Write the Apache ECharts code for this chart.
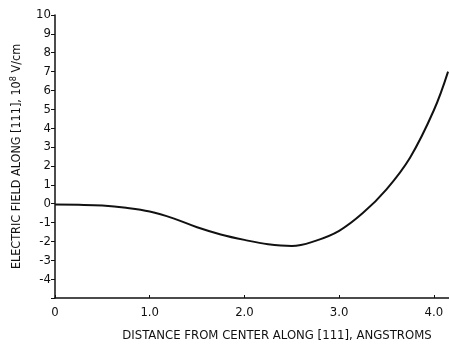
<!DOCTYPE html>
<html>
<head>
<meta charset="utf-8">
<script src="https://cdn.jsdelivr.net/npm/echarts@6/dist/echarts.min.js"></script>
<style>
  html, body { margin: 0; padding: 0; background: #fff; }
  #chart { width: 449px; height: 347px; }
</style>
</head>
<body>
<div id="chart"></div>
<script>
  // distance from center along [111], angstroms
  var xData = [0, 0.25, 0.5, 0.75, 1.0, 1.25, 1.5, 1.75, 2.0, 2.25, 2.5, 2.75,
    3.0, 3.25, 3.5, 3.75, 4.0, 4.15]
  // electric field, 10^8 V/cm
  var yData = [-0.05, -0.06, -0.1, -0.22, -0.42, -0.78, -1.25, -1.63, -1.92, -2.15, -2.24, -1.97,
    -1.44, -0.5, 0.76, 2.45, 4.95, 7.0]
  var yTicks = [10, 9, 8, 7, 6, 5, 4, 3, 2, 1, 0, -1, -2, -3, -4]
  var xTicks = ['0', '1.0', '2.0', '3.0', '4.0']

  var font = '"DejaVu Sans Condensed", "Liberation Sans Narrow", sans-serif'
  var chart = echarts.init(document.getElementById('chart'))
  chart.setOption({
    animation: false,
    grid: {
      left: 55,
      right: 0,
      top: 15,
      bottom: 44
    },
    xAxis: {
      type: 'value',
      min: 0,
      max: 4.16,
      interval: 1,
      name: 'DISTANCE FROM CENTER ALONG [111], ANGSTROMS',
      nameLocation: 'middle',
      nameGap: 31,
      nameTextStyle: {
        color: '#111',
        fontFamily: font,
        fontSize: 13,
        padding: [0, 0, 0, 50]
      },
      axisLine: { show: true, onZero: false, lineStyle: { color: '#111', width: 1.5 } },
      axisTick: { show: true, inside: true, length: 3, lineStyle: { color: '#111' } },
      splitLine: { show: false },
      axisLabel: {
        color: '#111',
        fontFamily: font,
        fontSize: 13,
        margin: 8,
        showMaxLabel: false,
        formatter: function (v) {
          var i = Math.round(v)
          return xTicks[i] !== undefined ? xTicks[i] : ''
        }
      }
    },
    yAxis: {
      type: 'value',
      min: -5,
      max: 10,
      interval: 1,
      name: '{t|ELECTRIC FIELD ALONG [111], 10}{s|8}{t| V/cm}',
      nameLocation: 'middle',
      nameGap: 31,
      nameTextStyle: {
        rich: {
          t: { color: '#111', fontFamily: font, fontSize: 12.5 },
          s: { color: '#111', fontFamily: font, fontSize: 9, verticalAlign: 'bottom', padding: [0, 0, 6, 0] }
        }
      },
      axisLine: { show: true, lineStyle: { color: '#111', width: 1.5 } },
      axisTick: { show: true, length: 4, lineStyle: { color: '#111' } },
      splitLine: { show: false },
      axisLabel: {
        color: '#111',
        fontFamily: font,
        fontSize: 13,
        margin: 4,
        formatter: function (v) {
          return yTicks.indexOf(v) >= 0 ? String(v) : ''
        }
      }
    },
    series: [{
      type: 'line',
      smooth: 0.4,
      symbol: 'none',
      lineStyle: { color: '#111', width: 2 },
      data: xData.map(function (x, i) { return [x, yData[i]] })
    }]
  })
</script>
</body>
</html>
